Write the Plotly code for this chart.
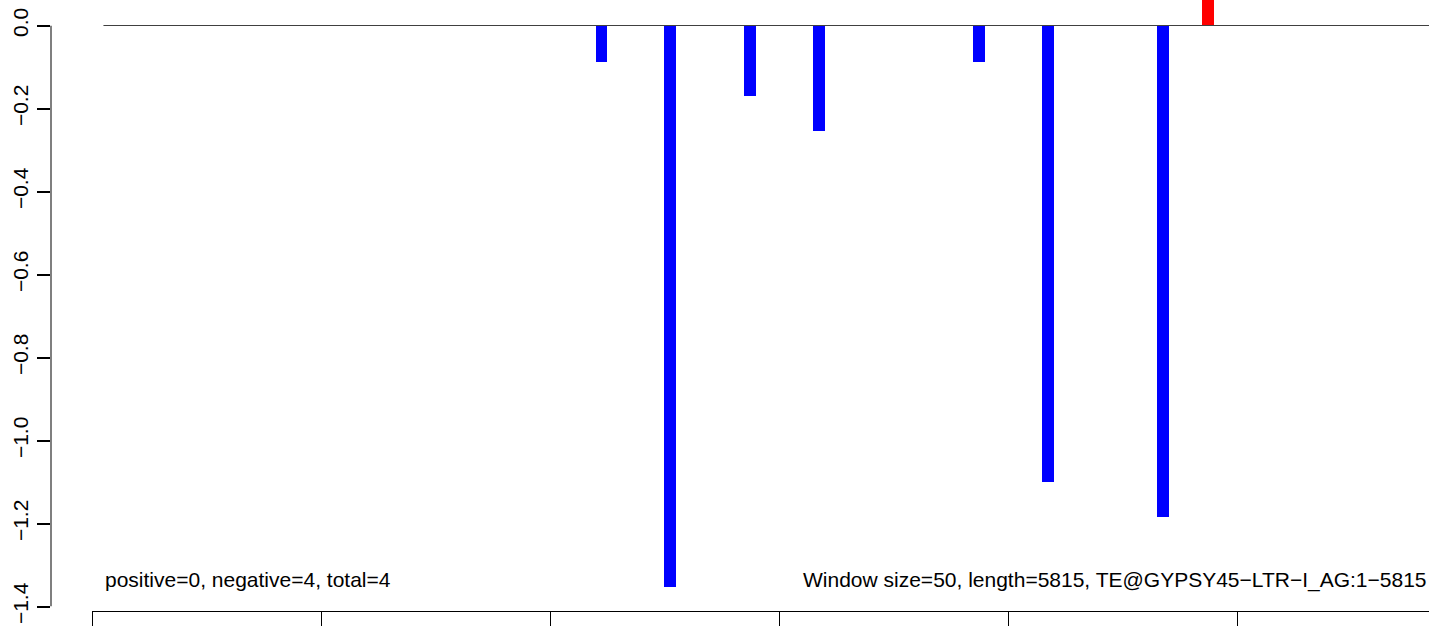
import plotly.graph_objects as go

# ---- data ----
window_centers = [2225, 2525, 2875, 3175, 3875, 4175, 4675, 4875]
window_values = [-0.087, -1.353, -0.171, -0.255, -0.087, -1.101, -1.185, 0.10]
zero_line_x = [50, 5850]
y_ticks = [0.0, -0.2, -0.4, -0.6, -0.8, -1.0, -1.2, -1.4]
x_ticks = [0, 1000, 2000, 3000, 4000, 5000, 6000]
label_left = "positive=0, negative=4, total=4"
label_right = "Window size=50, length=5815, TE@GYPSY45\u2212LTR\u2212I_AG:1\u22125815"

W, H = 1429, 626
FONT = "Liberation Sans, Arial, Helvetica, sans-serif"

colors = ["red" if v > 0 else "blue" for v in window_values]

px_per_bp = 0.229
x0_px = 92
top_px = 25.5
bot_px = 606.5
px_per_unit = (bot_px - top_px) / 1.4
yaxis_px = 50.5

fig = go.Figure()
fig.add_trace(go.Scatter(x=zero_line_x, y=[0, 0], mode="lines",
                         line=dict(color="#404040", width=1),
                         hoverinfo="skip", showlegend=False))
fig.add_trace(go.Bar(x=window_centers, y=window_values, width=52,
                     marker=dict(color=colors, line=dict(width=0)),
                     showlegend=False))
# y axis line spanning the tick range (R style), drawn on the y-axis subplot
fig.add_trace(go.Scatter(x=[0, 0], y=[y_ticks[0], y_ticks[-1]], xaxis="x2", yaxis="y2",
                         mode="lines", cliponaxis=False,
                         line=dict(color="black", width=2),
                         showlegend=False, hoverinfo="skip"))

fig.update_layout(
    width=W, height=H, autosize=False,
    margin=dict(l=0, r=0, t=0, b=0, pad=0),
    paper_bgcolor="white", plot_bgcolor="rgba(0,0,0,0)",
    font=dict(family=FONT, size=21, color="black"),
    showlegend=False,
    bargap=0,
    xaxis=dict(domain=[x0_px / W, 1.0],
               range=[0, (W - x0_px) / px_per_bp],
               anchor="free", position=(H - 611) / H,
               showline=True, linecolor="black", linewidth=1,
               ticks="outside", ticklen=16, tickcolor="black", tickwidth=1,
               tickvals=x_ticks, showticklabels=False,
               showgrid=False, zeroline=False, automargin=False),
    yaxis=dict(domain=[0, 1],
               range=[-(H - top_px) / px_per_unit, top_px / px_per_unit],
               visible=False, showgrid=False, zeroline=False, automargin=False),
    xaxis2=dict(domain=[yaxis_px / W, 1.0], range=[0, 1],
                showline=False, ticks="", showticklabels=False,
                anchor="y2", showgrid=False, zeroline=False, automargin=False),
    yaxis2=dict(domain=[(H - bot_px) / H, (H - top_px) / H],
                range=[-1.4, 0.0],
                anchor="x2", side="left",
                showline=False,
                ticks="outside", ticklen=13, tickcolor="black", tickwidth=2,
                tickvals=y_ticks, tickformat=".1f", tickangle=-90,
                tickfont=dict(family=FONT, size=21, color="black"),
                showgrid=False, zeroline=False, automargin=False),
    annotations=[
        dict(x=50, y=-1.335, xref="x", yref="y", text=label_left,
             showarrow=False, xanchor="left", yanchor="middle",
             font=dict(family=FONT, size=21, color="black")),
        dict(x=(801 - x0_px) / px_per_bp, y=-1.335, xref="x", yref="y", text=label_right,
             showarrow=False, xanchor="left", yanchor="middle",
             font=dict(family=FONT, size=21, color="black")),
    ],
)

fig.write_html("out.html", config={"displayModeBar": False},
               post_script="document.body.style.margin='0';document.body.style.overflow='hidden';")
